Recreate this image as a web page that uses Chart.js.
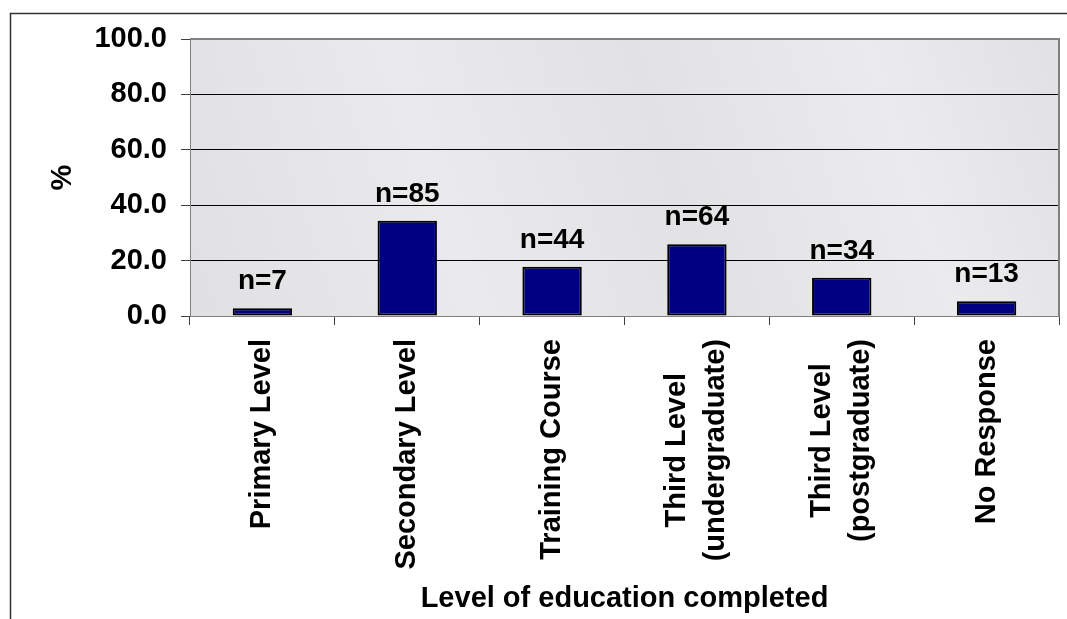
<!DOCTYPE html>
<html>
<head>
<meta charset="utf-8">
<title>Level of education completed</title>
<script src="https://cdn.jsdelivr.net/npm/chart.js@4.4.1/dist/chart.umd.min.js"></script>
<style>
	html, body { margin: 0; padding: 0; background: #fff; }
	canvas { display: block; }
</style>
</head>
<body>
<canvas id="graficoEscolaridade" width="1067" height="619"></canvas>
<script>
// dados
var categories = ['Primary Level', 'Secondary Level', 'Training Course', ['Third Level', '(undergraduate)'], ['Third Level', '(postgraduate)'], 'No Response'];
var percentages = [2.8, 34.4, 17.8, 25.9, 13.8, 5.3];
var respondents = [7, 85, 44, 64, 34, 13];
var yTicks = [0, 20, 40, 60, 80, 100];

var FONTE = "'Liberation Sans', Arial, sans-serif";

var Grafico = Grafico || {};

Grafico.Fundo = {
	id: 'fundo',
	beforeDraw: function(chart) {
		var ctx = chart.ctx;
		var area = chart.chartArea;
		ctx.save();
		ctx.fillStyle = '#fff';
		ctx.fillRect(0, 0, chart.width, chart.height);

		// moldura externa (so topo e esquerda aparecem)
		ctx.strokeStyle = '#333';
		ctx.lineWidth = 1.5;
		ctx.beginPath();
		ctx.moveTo(chart.width, 13.5);
		ctx.lineTo(10.5, 13.5);
		ctx.lineTo(10.5, chart.height);
		ctx.stroke();

		// fundo "marmore" aproximado
		var grad = ctx.createLinearGradient(area.left, area.bottom, area.right, area.top);
		grad.addColorStop(0, '#e0e0e2');
		grad.addColorStop(0.3, '#eaeaec');
		grad.addColorStop(0.55, '#e2e2e4');
		grad.addColorStop(0.8, '#ebebed');
		grad.addColorStop(1, '#e1e1e3');
		ctx.fillStyle = grad;
		ctx.fillRect(area.left, area.top, area.right - area.left, area.bottom - area.top);
		ctx.restore();
	},
	afterDraw: function(chart) {
		var ctx = chart.ctx;
		var area = chart.chartArea;
		ctx.save();
		ctx.strokeStyle = '#808080';
		ctx.lineWidth = 2;
		ctx.beginPath();
		ctx.moveTo(area.left, area.top);
		ctx.lineTo(area.right, area.top);
		ctx.lineTo(area.right, area.bottom);
		ctx.stroke();
		ctx.restore();
	}
};

Grafico.Rotulos = {
	id: 'rotulos',
	afterDatasetsDraw: function(chart) {
		var ctx = chart.ctx;
		var meta = chart.getDatasetMeta(0);
		ctx.save();
		ctx.fillStyle = '#000';
		ctx.font = 'bold 28px ' + FONTE;
		ctx.textAlign = 'center';
		ctx.textBaseline = 'alphabetic';
		meta.data.forEach(function(bar, i) {
			ctx.fillText('n=' + respondents[i], bar.x, bar.y - 19);
		});
		ctx.restore();
	}
};

// rotulos do eixo x: verticais, linhas centradas entre si como no Excel
Grafico.Categorias = {
	id: 'categorias',
	afterDraw: function(chart) {
		var ctx = chart.ctx;
		var escala = chart.scales.x;
		var topo = escala.top + 23;
		var alturaLinha = 39;
		ctx.save();
		ctx.fillStyle = '#000';
		ctx.font = 'bold 29px ' + FONTE;
		ctx.textAlign = 'center';
		ctx.textBaseline = 'middle';
		categories.forEach(function(cat, i) {
			var linhas = Array.isArray(cat) ? cat : [cat];
			var largura = 0;
			linhas.forEach(function(l) {
				largura = Math.max(largura, ctx.measureText(l).width);
			});
			ctx.save();
			ctx.translate(escala.getPixelForValue(i), topo);
			ctx.rotate(-Math.PI / 2);
			linhas.forEach(function(l, j) {
				ctx.fillText(l, -largura / 2, (j - (linhas.length - 1) / 2) * alturaLinha);
			});
			ctx.restore();
		});
		ctx.restore();
	}
};

(function() {
	var ctx = document.getElementById('graficoEscolaridade').getContext('2d');

	var grafico = new Chart(ctx, {
		type: 'bar',
		data: {
			labels: categories,
			datasets: [{
				data: percentages,
				backgroundColor: '#000080',
				borderColor: '#000',
				borderWidth: 2,
				borderSkipped: false,
				categoryPercentage: 1,
				barPercentage: 0.41
			}]
		},
		options: {
			responsive: false,
			animation: false,
			layout: {
				padding: { top: 39, right: 8, left: 40, bottom: 0 }
			},
			plugins: {
				legend: { display: false },
				title: { display: false },
				tooltip: { enabled: false }
			},
			scales: {
				x: {
					afterFit: function(scale) {
						scale.height = 303;
					},
					grid: {
						offset: true,
						drawOnChartArea: false,
						drawTicks: true,
						tickLength: 9,
						tickColor: '#404040'
					},
					border: { color: '#808080', width: 1 },
					ticks: {
						display: false
					},
					title: {
						display: true,
						text: 'Level of education completed',
						color: '#000',
						font: { family: FONTE, size: 29, weight: 'bold' },
						padding: { top: 0, bottom: 3 }
					}
				},
				y: {
					min: yTicks[0],
					max: yTicks[yTicks.length - 1],
					afterFit: function(scale) {
						scale.width = 150;
					},
					afterBuildTicks: function(scale) {
						scale.ticks = yTicks.map(function(v) { return { value: v }; });
					},
					grid: {
						color: function(context) {
							var v = context.tick ? context.tick.value : 0;
							return (v === 0 || v === 100) ? '#808080' : '#000';
						},
						lineWidth: 1,
						drawTicks: true,
						tickLength: 9,
						tickColor: '#404040'
					},
					border: { color: '#808080', width: 1 },
					ticks: {
						padding: 14,
						color: '#000',
						font: { family: FONTE, size: 29, weight: 'bold' },
						callback: function(value) {
							return Number(value).toFixed(1);
						}
					},
					title: {
						display: true,
						text: '%',
						color: '#000',
						font: { family: FONTE, size: 29, weight: 'bold' },
						padding: { top: 6, bottom: 0 }
					}
				}
			}
		},
		plugins: [Grafico.Fundo, Grafico.Rotulos, Grafico.Categorias]
	});
})();
</script>
</body>
</html>
